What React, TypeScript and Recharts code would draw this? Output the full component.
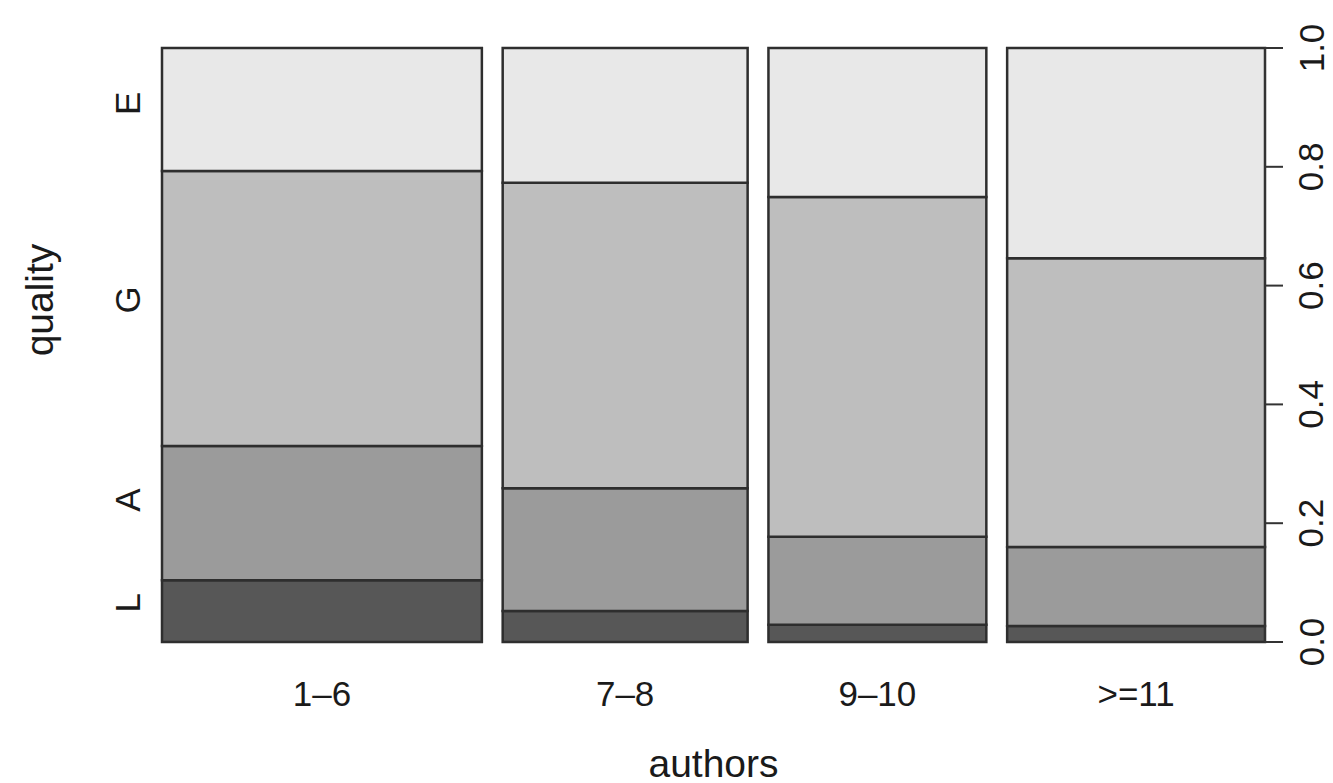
import React from 'react';
import { ComposedChart, XAxis, YAxis, ReferenceArea, Line } from 'recharts';

const categories = ['1–6', '7–8', '9–10', '>=11'];
const columnWidths = [0.3074, 0.2354, 0.2094, 0.2478];
const levels = ['L', 'A', 'G', 'E'];
const levelColors = ['#575757', '#9b9b9b', '#bebebe', '#e8e8e8'];
const shareL = [0.104, 0.052, 0.029, 0.027];
const shareA = [0.226, 0.207, 0.148, 0.133];
const shareG = [0.463, 0.514, 0.572, 0.486];
const shareE = [0.207, 0.227, 0.251, 0.354];
const rightTicks = [0, 0.2, 0.4, 0.6, 0.8, 1.0];
const levelLabelPositions = [0.066, 0.239, 0.576, 0.907];
const gap = 0.02;

const shares = [shareL, shareA, shareG, shareE];

const starts: number[] = [];
{
  let acc = 0;
  columnWidths.forEach((w) => {
    starts.push(acc);
    acc += w + gap;
  });
}
const xMax = starts[starts.length - 1] + columnWidths[columnWidths.length - 1];
const centers = starts.map((s, i) => s + columnWidths[i] / 2);

const anchorData = [
  { x: 0, y: 0 },
  ...centers.map((c) => ({ x: c, y: 0 })),
  { x: xMax, y: 1 },
];

const cells: { x1: number; x2: number; y1: number; y2: number; fill: string; key: string }[] = [];
categories.forEach((c, ci) => {
  let base = 0;
  levels.forEach((lv, li) => {
    const h = shares[li][ci];
    cells.push({
      x1: starts[ci],
      x2: starts[ci] + columnWidths[ci],
      y1: base,
      y2: li === levels.length - 1 ? 1 : base + h,
      fill: levelColors[li],
      key: `${c}-${lv}`,
    });
    base += h;
  });
});

const FONT = '"Liberation Sans", Arial, Helvetica, sans-serif';
const TEXT = '#1a1a1a';
const TICK_SIZE = 35;
const TITLE_SIZE = 39;

const XTick = (props: any) => {
  const { x, y, payload } = props;
  const idx = centers.findIndex((c) => Math.abs(c - payload.value) < 1e-6);
  return (
    <text x={x} y={y + 51} textAnchor="middle" dominantBaseline="central" fontFamily={FONT} fontSize={TICK_SIZE} fill={TEXT}>
      {categories[idx]}
    </text>
  );
};

const RightTick = (props: any) => {
  const { x, y, payload } = props;
  const cx = x + 28;
  return (
    <text x={cx} y={y} transform={`rotate(-90, ${cx}, ${y})`} textAnchor="middle" dominantBaseline="central" fontFamily={FONT} fontSize={TICK_SIZE} fill={TEXT}>
      {Number(payload.value).toFixed(1)}
    </text>
  );
};

const LeftTick = (props: any) => {
  const { x, y, payload } = props;
  const idx = levelLabelPositions.findIndex((p) => Math.abs(p - payload.value) < 1e-6);
  const cx = x - 34;
  return (
    <text x={cx} y={y} transform={`rotate(-90, ${cx}, ${y})`} textAnchor="middle" dominantBaseline="central" fontFamily={FONT} fontSize={TICK_SIZE} fill={TEXT}>
      {levels[idx]}
    </text>
  );
};

export default function App() {
  return (
    <ComposedChart width={1325} height={775} margin={{ top: 40, right: 0, bottom: 0, left: 0 }} data={anchorData} style={{ overflow: 'visible' }}>
      <XAxis
        xAxisId="x"
        dataKey="x"
        type="number"
        domain={[0, xMax]}
        ticks={centers}
        tick={<XTick />}
        axisLine={false}
        tickLine={false}
        tickSize={0}
        tickMargin={0}
        height={141}
        interval={0}
        allowDataOverflow
        label={{
          content: () => (
            <text x={705.5} y={755} textAnchor="middle" dominantBaseline="central" fontFamily={FONT} fontSize={TITLE_SIZE} fill={TEXT}>
              authors
            </text>
          ),
        }}
      />
      <YAxis
        yAxisId="left"
        orientation="left"
        type="number"
        domain={[0, 1]}
        ticks={levelLabelPositions}
        tick={<LeftTick />}
        axisLine={false}
        tickLine={false}
        tickSize={0}
        tickMargin={0}
        width={154}
        interval={0}
        allowDataOverflow
        label={{
          content: () => (
            <text x={31} y={292} transform="rotate(-90, 31, 292)" textAnchor="middle" dominantBaseline="central" fontFamily={FONT} fontSize={TITLE_SIZE} fill={TEXT}>
              quality
            </text>
          ),
        }}
      />
      <YAxis
        yAxisId="right"
        orientation="right"
        type="number"
        domain={[0, 1]}
        ticks={rightTicks}
        tick={<RightTick />}
        axisLine={{ stroke: '#333', strokeWidth: 2 }}
        tickLine={{ stroke: '#333', strokeWidth: 2 }}
        tickSize={18}
        tickMargin={0}
        width={68}
        interval={0}
        allowDataOverflow
      />
      <Line
        xAxisId="x"
        yAxisId="right"
        dataKey="y"
        stroke="none"
        dot={false}
        activeDot={false}
        isAnimationActive={false}
        legendType="none"
      />
      {cells.map((c) => (
        <ReferenceArea
          key={c.key}
          xAxisId="x"
          yAxisId="right"
          x1={c.x1}
          x2={c.x2}
          y1={c.y1}
          y2={c.y2}
          fill={c.fill}
          fillOpacity={1}
          stroke="#2e2e2e"
          strokeWidth={2.5}
          ifOverflow="visible"
        />
      ))}
    </ComposedChart>
  );
}
